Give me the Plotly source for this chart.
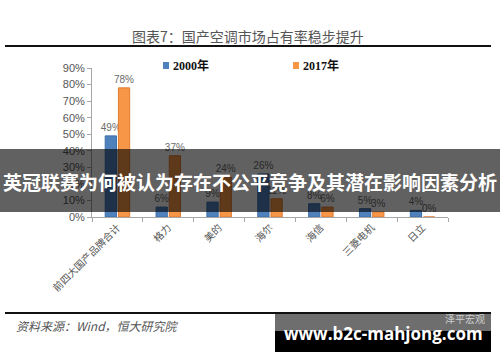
import plotly.graph_objects as go

categories = ["前四大国产品牌合计", "格力", "美的", "海尔", "海信", "三菱电机", "日立"]
share_2000 = [0.49, 0.06, 0.09, 0.26, 0.08, 0.05, 0.04]
share_2017 = [0.78, 0.37, 0.24, 0.11, 0.06, 0.03, 0.00]
series_names = ["2000年", "2017年"]
y_ticks = [0, 0.1, 0.2, 0.3, 0.4, 0.5, 0.6, 0.7, 0.8, 0.9]

W, H = 500, 362
L, R, T, B = 92, 52, 68, 145
PW, PH = W - L - R, H - T - B

def px(x):
    return (x - L) / PW

def py(y):
    return (H - B - y) / PH

blue = "#4f81bd"
orange = "#f79646"
label_font = dict(family="Liberation Sans, Arial", size=10, color="#6a6a6a")

fig = go.Figure()
fig.add_trace(go.Bar(x=categories, y=share_2000, name=series_names[0],
                     marker=dict(color=blue, line=dict(color="#3c6ea8", width=1)),
                     texttemplate="%{y:.0%}", textposition="outside", constraintext="none",
                     textfont=label_font, cliponaxis=False))
fig.add_trace(go.Bar(x=categories, y=share_2017, name=series_names[1],
                     marker=dict(color=orange, line=dict(color="#e07b30", width=1)),
                     texttemplate="%{y:.0%}", textposition="outside", constraintext="none",
                     textfont=label_font, cliponaxis=False))

shapes = []
annotations = []

# title and rules
annotations.append(dict(text="图表7：国产空调市场占有率稳步提升", x=px(248), y=py(36),
                        xref="paper", yref="paper", showarrow=False,
                        font=dict(family="Noto Sans CJK SC", size=14, color="#555555"),
                        xanchor="center", yanchor="middle"))
shapes.append(dict(type="line", xref="paper", yref="paper", x0=px(5), x1=px(491),
                   y0=py(46), y1=py(46), line=dict(color="#111111", width=2)))
shapes.append(dict(type="line", xref="paper", yref="paper", x0=px(5), x1=px(491),
                   y0=py(313), y1=py(313), line=dict(color="#111111", width=2)))

# legend
for name, col, x0 in [(series_names[0], blue, 163), (series_names[1], orange, 293)]:
    shapes.append(dict(type="rect", xref="paper", yref="paper", x0=px(x0), x1=px(x0 + 6),
                       y0=py(69), y1=py(62), fillcolor=col, line=dict(width=0)))
    annotations.append(dict(text="<b>" + name + "</b>", x=px(x0 + 8), y=py(65.5),
                            xref="paper", yref="paper", showarrow=False,
                            font=dict(family="Liberation Serif, Noto Sans CJK SC", size=12, color="#111111"),
                            xanchor="left", yanchor="middle"))

# source
annotations.append(dict(text="<i>资料来源：Wind，恒大研究院</i>", x=px(14), y=py(325),
                        xref="paper", yref="paper", showarrow=False,
                        font=dict(family="Noto Sans CJK SC", size=12, color="#555555"),
                        xanchor="left", yanchor="middle"))

# banner overlay
shapes.append(dict(type="rect", xref="paper", yref="paper", x0=px(0), x1=px(500),
                   y0=py(212), y1=py(149), fillcolor="rgba(0,0,0,0.62)",
                   line=dict(width=0), layer="above"))
annotations.append(dict(text="<b>英冠联赛为何被认为存在不公平竞争及其潜在影响因素分析</b>",
                        x=px(250), y=py(181), xref="paper", yref="paper", showarrow=False,
                        font=dict(family="Noto Sans CJK SC", size=19, color="white"),
                        xanchor="center", yanchor="middle"))

# watermark
shapes.append(dict(type="rect", xref="paper", yref="paper", x0=px(275), x1=px(491),
                   y0=py(331), y1=py(314), fillcolor="#6e6e6e", line=dict(width=0), layer="above"))
shapes.append(dict(type="rect", xref="paper", yref="paper", x0=px(275), x1=px(491),
                   y0=py(352), y1=py(331), fillcolor="#000000", line=dict(width=0), layer="above"))
annotations.append(dict(text="泽平宏观", x=px(487), y=py(318), xref="paper", yref="paper",
                        showarrow=False, font=dict(family="Noto Sans CJK SC", size=10, color="#cfcfcf"),
                        xanchor="right", yanchor="middle"))
annotations.append(dict(text="<b>www.b2c-mahjong.com</b>", x=px(383), y=py(333),
                        xref="paper", yref="paper", showarrow=False,
                        font=dict(family="Open Sans, DejaVu Sans", size=17, color="white"),
                        xanchor="center", yanchor="middle"))

fig.update_layout(
    width=W, height=H,
    margin=dict(l=L, r=R, t=T, b=B, pad=0),
    paper_bgcolor="white", plot_bgcolor="white",
    barmode="group", bargap=0.48, bargroupgap=0.15,
    showlegend=False,
    shapes=shapes, annotations=annotations,
    xaxis=dict(showline=True, linecolor="#a6a6a6", linewidth=1,
               ticks="outside", ticklen=4, tickcolor="#a6a6a6",
               tickson="boundaries", tickangle=-45,
               tickfont=dict(family="Noto Sans CJK SC", size=10, color="#555555"),
               showgrid=False, zeroline=False),
    yaxis=dict(range=[0, 0.9], tickvals=y_ticks, tickformat=".0%",
               showline=True, linecolor="#a6a6a6", linewidth=1,
               ticks="outside", ticklen=4, tickcolor="#a6a6a6",
               tickfont=dict(family="Liberation Sans, Arial", size=11, color="#555555"),
               showgrid=False, zeroline=False),
)

fig.write_html("out.html")
